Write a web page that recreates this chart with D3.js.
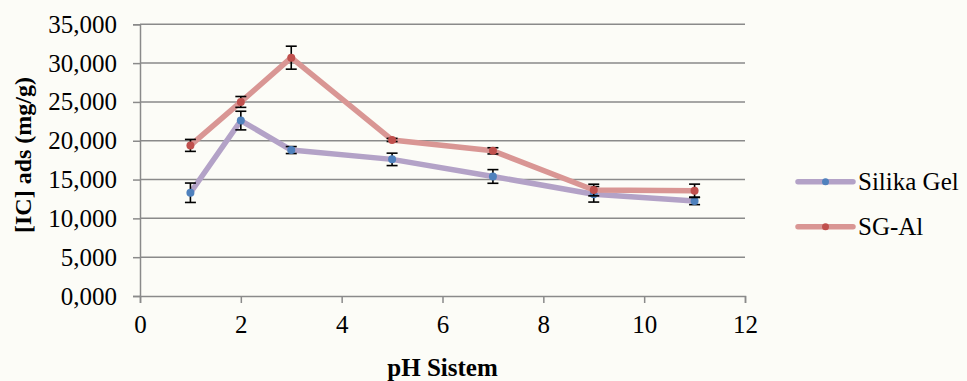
<!DOCTYPE html>
<html><head><meta charset="utf-8">
<script src="https://cdn.jsdelivr.net/npm/d3@7"></script>
<style>
html,body{margin:0;padding:0;background:#fcfcf7;}
svg{display:block;}
svg text{font-family:"Times New Roman","Liberation Serif",Tinos,"DejaVu Serif",serif !important;}
</style></head>
<body><svg id="c" width="967" height="381"></svg>
<script>
const pH = [1, 2, 3, 5, 7, 9, 11];
const silikaGel = [13.3, 22.6, 18.8, 17.6, 15.4, 13.1, 12.25];
const silikaGelErr = [1.25, 1.2, 0.45, 0.8, 0.88, 1.0, 0.48];
const sgAl = [19.4, 25.0, 30.7, 20.1, 18.7, 13.65, 13.55];
const sgAlErr = [0.77, 0.7, 1.48, 0.2, 0.4, 0.75, 0.86];
const xTicks = [0, 2, 4, 6, 8, 10, 12];
const yTicks = [0, 5, 10, 15, 20, 25, 30, 35];
const seriesNames = ["Silika Gel", "SG-Al"];

const svg = d3.select("#c");
const x = d3.scaleLinear().domain([0, 12]).range([140, 745]);
const y = d3.scaleLinear().domain([0, 35]).range([296, 24.3]);
const loc = d3.formatLocale({decimal: ",", thousands: ".", grouping: [3], currency: ["", ""]});
const fmt = loc.format(".3f");
const grid = "#8a8a8a";

// gridlines
svg.append("g").selectAll("line").data(yTicks.filter(d => d > 0)).join("line")
  .attr("x1", x(0)).attr("x2", x(12)).attr("y1", d => y(d)).attr("y2", d => y(d))
  .attr("stroke", grid).attr("stroke-width", 1.5);

// y axis
const ya = svg.append("g").attr("transform", `translate(${x(0)},0)`)
  .call(d3.axisLeft(y).tickValues(yTicks).tickFormat(fmt).tickSize(7).tickPadding(16));
ya.attr("font-family", null);
ya.select(".domain").attr("stroke", grid).attr("stroke-width", 1.5);
ya.selectAll(".tick line").attr("stroke", grid).attr("stroke-width", 1.5);
ya.selectAll("text").attr("font-size", 25).attr("fill", "#000");

// x axis
const xa = svg.append("g").attr("transform", `translate(0,${y(0)})`)
  .call(d3.axisBottom(x).tickValues(xTicks).tickFormat(d3.format("d")).tickSize(7).tickPadding(12));
xa.attr("font-family", null);
xa.select(".domain").attr("stroke", grid).attr("stroke-width", 1.5);
xa.selectAll(".tick line").attr("stroke", grid).attr("stroke-width", 1.5);
xa.selectAll("text").attr("font-size", 25).attr("fill", "#000");

const series = [
  {name: seriesNames[0], vals: silikaGel, err: silikaGelErr, line: "#b3a2c7", mark: "#4f81bd"},
  {name: seriesNames[1], vals: sgAl, err: sgAlErr, line: "#d99694", mark: "#c0504d"}
];
const lineGen = d3.line().x(d => x(d[0])).y(d => y(d[1]));
series.forEach(s => {
  const pts = pH.map((p, i) => [p, s.vals[i], s.err[i]]);
  const g = svg.append("g");
  g.append("path").attr("d", lineGen(pts)).attr("fill", "none")
    .attr("stroke", s.line).attr("stroke-width", 5.5).attr("stroke-linejoin", "round");
  const eb = g.selectAll("g.eb").data(pts).join("g").attr("stroke", "#000").attr("stroke-width", 1.6);
  eb.append("line").attr("x1", d => x(d[0])).attr("x2", d => x(d[0]))
    .attr("y1", d => y(d[1] + d[2])).attr("y2", d => y(d[1] - d[2]));
  eb.append("line").attr("x1", d => x(d[0]) - 5.5).attr("x2", d => x(d[0]) + 5.5)
    .attr("y1", d => y(d[1] + d[2])).attr("y2", d => y(d[1] + d[2]));
  eb.append("line").attr("x1", d => x(d[0]) - 5.5).attr("x2", d => x(d[0]) + 5.5)
    .attr("y1", d => y(d[1] - d[2])).attr("y2", d => y(d[1] - d[2]));
  g.selectAll("circle").data(pts).join("circle")
    .attr("cx", d => x(d[0])).attr("cy", d => y(d[1])).attr("r", 4).attr("fill", s.mark);
});

// legend
const lg = svg.append("g");
series.forEach((s, i) => {
  const ly = 181.7 + i * 45;
  lg.append("line").attr("x1", 798).attr("x2", 853).attr("y1", ly).attr("y2", ly)
    .attr("stroke", s.line).attr("stroke-width", 5.5).attr("stroke-linecap", "round");
  lg.append("circle").attr("cx", 825.5).attr("cy", ly).attr("r", 3.5).attr("fill", s.mark);
  lg.append("text").attr("x", 858).attr("y", ly + 8.5).attr("font-size", 25).text(s.name);
});

// axis titles
svg.append("text").attr("x", x(6)).attr("y", 376).attr("text-anchor", "middle")
  .attr("font-size", 25).attr("font-weight", "bold").text("pH Sistem");
svg.append("text").attr("transform", "translate(31,155) rotate(-90)").attr("text-anchor", "middle")
  .attr("font-size", 24).attr("font-weight", "bold").text("[IC] ads (mg/g)");
</script></body></html>
